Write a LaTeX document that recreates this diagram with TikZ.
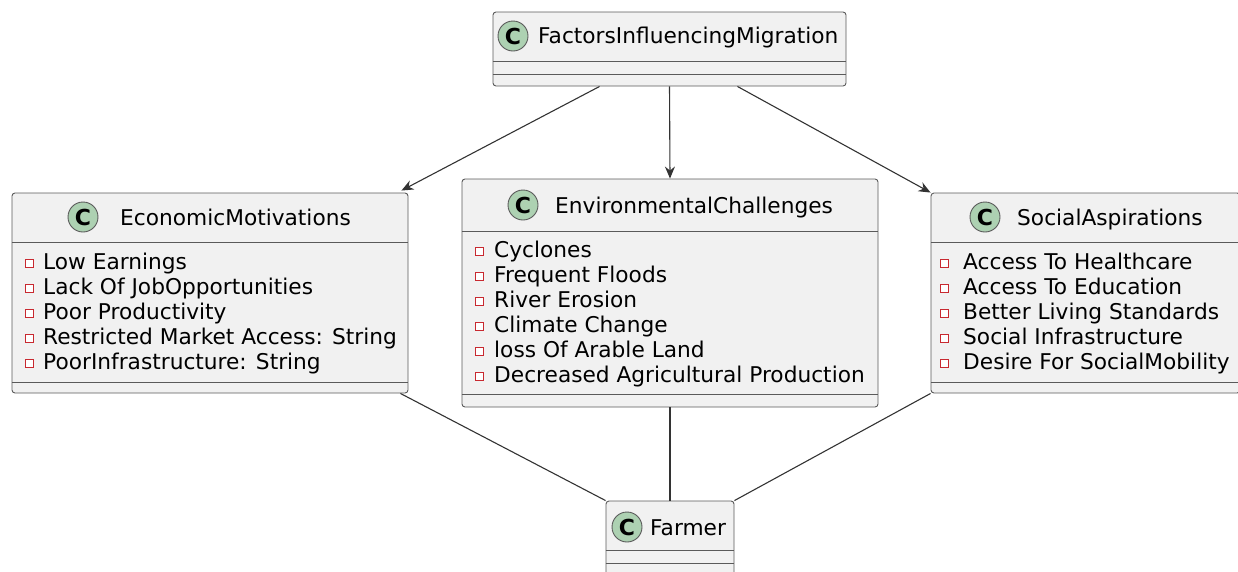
\documentclass[tikz,border=0pt]{standalone}
\usepackage{fontspec}
\setmainfont{DejaVu Sans}
\usetikzlibrary{arrows.meta}
\definecolor{boxfill}{HTML}{F1F1F1}
\definecolor{boxline}{HTML}{5A5A5A}
\definecolor{circfill}{HTML}{ADD1B2}
\definecolor{iconred}{HTML}{C82930}
\definecolor{edgecol}{HTML}{333333}
\begin{document}
\begin{tikzpicture}[x=1pt,y=-1pt,
  cls/.style={draw=boxline, fill=boxfill, line width=0.9pt, rounded corners=3pt, inner sep=0pt},
  sep/.style={draw=boxline, line width=0.9pt},
  circ/.style={circle, draw=boxline, fill=circfill, line width=0.9pt, minimum size=30pt, inner sep=0pt,
    font=\fontsize{22}{22}\selectfont\bfseries},
  ttl/.style={anchor=base west, inner sep=0pt, font=\fontsize{21.7}{25}\selectfont},
  attr/.style={anchor=base west, inner sep=0pt, font=\fontsize{21.7}{25}\selectfont},
  icon/.style={rectangle, draw=iconred, fill=white, line width=0.9pt, minimum width=8pt, minimum height=8pt, inner sep=0pt, outer sep=0pt},
  arr/.style={draw=edgecol, line width=1.1pt, -{Stealth[length=12pt,width=10pt,inset=4pt]}},
  ln/.style={draw=edgecol, line width=1.1pt}
]
\useasboundingbox (0,0) rectangle (1238,571);

% boxes
\node[cls, minimum width=353pt, minimum height=74pt] (fac) at (669.5,49) {};
\node[cls, minimum width=396pt, minimum height=200pt] (eco) at (210,293) {};
\node[cls, minimum width=416pt, minimum height=228pt] (env) at (670,293) {};
\node[cls, minimum width=309pt, minimum height=200pt] (soc) at (1085.5,293) {};
\node[cls, minimum width=128pt, minimum height=74pt] (far) at (670,538) {};

% separators
\draw[sep] (fac.west |- 0,61) -- (fac.east |- 0,61);
\draw[sep] (fac.west |- 0,74) -- (fac.east |- 0,74);
\draw[sep] (eco.west |- 0,242) -- (eco.east |- 0,242);
\draw[sep] (eco.west |- 0,382) -- (eco.east |- 0,382);
\draw[sep] (env.west |- 0,231) -- (env.east |- 0,231);
\draw[sep] (env.west |- 0,394) -- (env.east |- 0,394);
\draw[sep] (soc.west |- 0,242) -- (soc.east |- 0,242);
\draw[sep] (soc.west |- 0,382) -- (soc.east |- 0,382);
\draw[sep] (far.west |- 0,550) -- (far.east |- 0,550);
\draw[sep] (far.west |- 0,563) -- (far.east |- 0,563);

% headers
\node[circ] (facC) at (513,36) {C};
\node[ttl] (facT) at (538,43) {FactorsInfluencingMigration};
\node[circ] (ecoC) at (83,217) {C};
\node[ttl] (ecoT) at (120,225) {EconomicMotivations};
\node[circ] (envC) at (523,205) {C};
\node[ttl] (envT) at (555,213) {EnvironmentalChallenges};
\node[circ] (socC) at (985,217) {C};
\node[ttl] (socT) at (1017,225) {SocialAspirations};
\node[circ] (farC) at (627,527) {C};
\node[ttl] (farT) at (650,535) {Farmer};

% attributes
\foreach \t [count=\i from 0] in {Low Earnings, Lack Of JobOpportunities, Poor Productivity,
    Restricted Market Access: String, PoorInfrastructure: String}{
  \node[icon] (ecoI\i) at (29,{263+25.2*\i}) {};
  \node[attr] (ecoA\i) at (43,{269+25.2*\i}) {\t};
}
\foreach \t [count=\i from 0] in {Cyclones, Frequent Floods, River Erosion, Climate Change,
    loss Of Arable Land, Decreased Agricultural Production}{
  \node[icon] (envI\i) at (479,{251+25*\i}) {};
  \node[attr] (envA\i) at (494,{257+25*\i}) {\t};
}
\foreach \t [count=\i from 0] in {Access To Healthcare, Access To Education, Better Living Standards,
    Social Infrastructure, Desire For SocialMobility}{
  \node[icon] (socI\i) at (944,{263+25.2*\i}) {};
  \node[attr] (socA\i) at (963,{269+25.2*\i}) {\t};
}

% connectors
\draw[arr] ([xshift=107pt]fac.south west) -- ([xshift=-7pt,yshift=2pt]eco.north east);
\draw[arr] (fac.south) -- (env.north);
\draw[arr] ([xshift=-109pt]fac.south east) -- (soc.north west);
\draw[ln] ([xshift=-8pt]eco.south east) -- (far.north west);
\draw[ln] (env.south) -- (far.north);
\draw[ln] (soc.south west) -- (far.north east);
\end{tikzpicture}
\end{document}
